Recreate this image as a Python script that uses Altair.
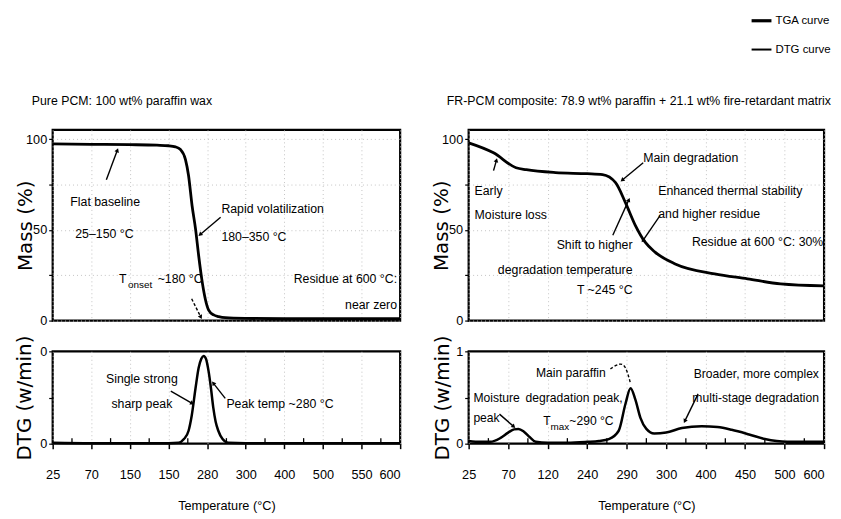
import math
import altair as alt
import pandas as pd

NARROW = "Liberation Sans, Arial, sans-serif"
WIDE = "DejaVu Sans"
FS = 12.4

# ---------------- data ----------------
X_LABELS_LEFT = ["25", "70", "150", "150", "280", "300", "400", "500", "550", "600"]
X_LABELS_RIGHT = ["25", "70", "120", "240", "290", "300", "400", "450", "500", "600"]
MAJOR_POS = [0, 1, 2, 3, 4, 5, 6, 7, 8, 9]
MINOR_POS = [0.5, 1.5, 2.5, 3.5, 4.5, 5.5, 6.5, 7.5, 8.5]

# Pure PCM – TGA (axis position, mass %)
TGA_L_POS = [0, 1, 2, 2.7, 3.0, 3.18, 3.31, 3.44, 3.52, 3.61, 3.7, 3.78, 3.86, 3.95, 4.04, 4.17, 4.3, 4.47, 5, 6, 7, 8, 9]
TGA_L_VAL = [97.3, 97.1, 96.9, 96.6, 96.3, 95.7, 94.2, 88.7, 79.8, 63.4, 50.5, 36, 23.1, 12.2, 5.8, 3.1, 2.2, 1.6, 1.2, 1.0, 1.0, 1.0, 1.0]
# Pure PCM – DTG
DTG_L_POS = [0, 1, 2, 3.0, 3.26, 3.4, 3.52, 3.6, 3.7, 3.78, 3.85, 3.91, 3.97, 4.04, 4.1, 4.16, 4.22, 4.29, 4.4, 4.55, 5, 9]
DTG_L_VAL = [0.01, 0.005, 0.005, 0.005, 0.01, 0.05, 0.14, 0.3, 0.6, 0.82, 0.92, 0.95, 0.92, 0.78, 0.6, 0.39, 0.24, 0.14, 0.05, 0.01, 0.005, 0.005]
# FR-PCM – TGA
TGA_R_POS = [0, 0.63, 1.2, 1.46, 2.2, 3.0, 3.39, 3.72, 3.97, 4.22, 4.47, 4.72, 5.23, 6.23, 7.06, 7.9, 9]
TGA_R_VAL = [97.9, 92.4, 84.2, 83.1, 81.5, 80.9, 80.4, 76, 65, 52.5, 43.2, 37.7, 31.2, 25.7, 23, 20.2, 19.1]
# FR-PCM – DTG
DTG_R_POS = [0, 0.3, 0.55, 0.8, 1.0, 1.15, 1.26, 1.4, 1.55, 1.7, 2.0, 2.5, 3.0, 3.3, 3.55, 3.8, 3.97, 4.1, 4.22, 4.35, 4.5, 4.7, 5.0, 5.4, 5.9, 6.3, 6.66, 7.1, 7.5, 8.07, 9]
DTG_R_VAL = [0.03, 0.02, 0.02, 0.06, 0.12, 0.155, 0.16, 0.13, 0.07, 0.02, 0.01, 0.01, 0.02, 0.03, 0.05, 0.14, 0.43, 0.6, 0.48, 0.28, 0.16, 0.11, 0.12, 0.17, 0.19, 0.18, 0.15, 0.1, 0.05, 0.02, 0.02]

TITLE_LEFT = "Pure PCM: 100 wt% paraffin wax"
TITLE_RIGHT = "FR-PCM composite: 78.9 wt% paraffin + 21.1 wt% fire-retardant matrix"
LEGEND_LABELS = ["TGA curve", "DTG curve"]

# annotations: text, position, value, alignment
ANN_LT_TEXT = ["Flat baseline", "25–150 °C", "Rapid volatilization", "180–350 °C", "T", "~180 °C", "Residue at 600 °C:", "near zero"]
ANN_LT_POS = [1.36, 1.34, 4.37, 4.37, 1.72, 2.72, 8.92, 8.92]
ANN_LT_VAL = [65.1, 47.6, 61.2, 45.9, 23, 23, 23, 8.7]
ANN_LT_ALIGN = ["center", "center", "left", "left", "left", "left", "right", "right"]
SUB_LT_TEXT = ["onset"]
SUB_LT_POS = [1.95]
SUB_LT_VAL = [19.5]
ARR_LT = {"x": [1.39, 4.35], "y": [77.6, 56.9], "x2": [1.67, 3.83], "y2": [93.5, 47.6]}
DASH_LT = {"x": [3.6], "y": [12], "x2": [3.83], "y2": [2.2]}

ANN_LB_TEXT = ["Single strong", "sharp peak", "Peak temp ~280 °C"]
ANN_LB_POS = [2.31, 2.31, 4.5]
ANN_LB_VAL = [0.70, 0.43, 0.43]
ANN_LB_ALIGN = ["center", "center", "left"]
ARR_LB = {"x": [3.06, 4.47], "y": [0.57, 0.49], "x2": [3.6, 4.17], "y2": [0.44, 0.65]}

ANN_RT_TEXT = ["Early", "Moisture loss", "Main degradation", "Enhanced thermal stability", "and higher residue",
               "Shift to higher", "degradation temperature", "T ~245 °C", "Residue at 600 °C: 30%"]
ANN_RT_POS = [0.15, 0.15, 4.42, 4.8, 4.8, 4.15, 4.15, 4.15, 8.98]
ANN_RT_VAL = [71.6, 58, 89.7, 71.6, 58.5, 41.6, 27.9, 16.9, 43.2]
ANN_RT_ALIGN = ["left", "left", "left", "left", "left", "right", "right", "right", "right"]
ARR_RT = {"x": [0.63, 4.42, 4.85, 3.65], "y": [82.6, 86.9, 58, 47], "x2": [0.7, 3.9, 4.42, 4.05], "y2": [88, 77.6, 44.3, 66.2]}

ANN_RB_TEXT = ["Main paraffin", "degradation peak,", "T", "~290 °C", "Moisture", "peak", "Broader, more complex", "multi-stage degradation"]
ANN_RB_POS = [3.47, 2.67, 1.89, 2.55, 0.12, 0.12, 8.87, 8.87]
ANN_RB_VAL = [0.76, 0.49, 0.25, 0.25, 0.49, 0.28, 0.75, 0.49]
ANN_RB_ALIGN = ["right", "center", "left", "left", "left", "left", "right", "right"]
SUB_RB_TEXT = ["max"]
SUB_RB_POS = [2.07]
SUB_RB_VAL = [0.18]
ARR_RB = {"x": [0.78, 5.81], "y": [0.32, 0.54], "x2": [1.13, 5.48], "y2": [0.19, 0.25]}
DASH_RB_POS = [3.59, 3.8, 3.97, 4.1]
DASH_RB_VAL = [0.81, 0.87, 0.86, 0.65]

# ---------------- layout constants ----------------
W_L, W_R = 350, 358
H_TOP, H_BOT = 192, 93
MASS_DOMAIN = [0, 105]
DTG_DOMAIN = [0, 1]
X_DOMAIN = [0, 9]
GRID = dict(grid=True, gridColor="#c4c4c4", gridDash=[1, 3], gridWidth=1)
LAST_RIGHT = {"condition": {"test": "datum.value == 9", "value": "right"}, "value": "center"}


def lab_expr(labels):
    arr = "[" + ",".join("'%s'" % l for l in labels) + "]"
    return arr + "[round(datum.value)]"


def x_top():
    return alt.X("pos:Q", scale=alt.Scale(domain=X_DOMAIN, nice=False, zero=False),
                 axis=alt.Axis(values=MAJOR_POS, labels=False, ticks=False, domain=False, title=None, **GRID))


def x_bot(labels):
    return alt.X("pos:Q", scale=alt.Scale(domain=X_DOMAIN, nice=False, zero=False),
                 axis=alt.Axis(values=MAJOR_POS, labelExpr=lab_expr(labels), domain=False,
                               tickSize=5, tickWidth=1.5, tickColor="black", labelOverlap=False,
                               labelAlign=LAST_RIGHT,
                               labelFont=NARROW, labelFontSize=12.8, labelColor="black", labelPadding=20,
                               title="Temperature (°C)", titleFont=NARROW, titleFontSize=12.8,
                               titleFontWeight="normal", titleColor="black", titlePadding=19, **GRID))


def y_mass(tx):
    return alt.Y("val:Q", scale=alt.Scale(domain=MASS_DOMAIN, nice=False),
                 axis=alt.Axis(values=[0, 25, 50, 75, 100],
                               labelExpr="datum.value % 50 == 0 ? datum.label : ''",
                               domain=False, tickSize=4, tickWidth=1.2, tickColor="black",
                               labelFont=NARROW, labelFontSize=12.8, labelColor="black", labelPadding=2,
                               title="Mass (%)", titleFont=WIDE, titleFontSize=20, titleFontWeight="normal",
                               titleColor="black", titleX=tx, titleY=H_TOP / 2, titleBaseline="middle",
                               titleAngle=270, **GRID))


def y_dtg(tx, expr):
    return alt.Y("val:Q", scale=alt.Scale(domain=DTG_DOMAIN, nice=False),
                 axis=alt.Axis(values=[0, 0.5, 1], labelExpr=expr,
                               domain=False, tickSize=4, tickWidth=1.2, tickColor="black",
                               labelFont=NARROW, labelFontSize=12.8, labelColor="black", labelPadding=2,
                               title="DTG (w/min)", titleFont=WIDE, titleFontSize=20, titleFontWeight="normal",
                               titleColor="black", titleX=tx, titleY=H_BOT / 2, titleBaseline="middle",
                               titleAngle=270, grid=False))


class Panel:
    def __init__(self, xe, ye, width, height, ydomain):
        self.xe, self.ye = xe, ye
        self.kx = width / (X_DOMAIN[1] - X_DOMAIN[0])
        self.ky = height / (ydomain[1] - ydomain[0])

    def curve(self, pos, val, width):
        df = pd.DataFrame({"pos": pos, "val": val})
        return alt.Chart(df).mark_line(color="black", strokeWidth=width, interpolate="monotone").encode(
            x=self.xe, y=self.ye)

    def texts(self, text, pos, val, align, size=FS):
        df = pd.DataFrame({"label": text, "pos": pos, "val": val, "align": align})
        layers = []
        for a in ["left", "center", "right"]:
            sub = df[df["align"] == a]
            if len(sub):
                layers.append(alt.Chart(sub).mark_text(align=a, baseline="middle", font=NARROW, fontSize=size,
                                                       color="black")
                              .encode(x=self.xe, y=self.ye, text="label:N"))
        return layers

    def arrows(self, d, dash=None, head=True):
        df = pd.DataFrame({"pos": d["x"], "val": d["y"], "pos2": d["x2"], "val2": d["y2"]})
        kw = dict(color="black", strokeWidth=1.4)
        if dash:
            kw["strokeDash"] = dash
        layers = [alt.Chart(df).mark_rule(**kw).encode(x=self.xe, y=self.ye, x2="pos2:Q", y2="val2:Q")]
        if head:
            ang = []
            for x1, y1, x2, y2 in zip(d["x"], d["y"], d["x2"], d["y2"]):
                dx = (x2 - x1) * self.kx
                dy = -(y2 - y1) * self.ky
                ang.append(math.degrees(math.atan2(dx, -dy)) % 360)
            hd = pd.DataFrame({"pos": d["x2"], "val": d["y2"], "ang": ang})
            layers.append(alt.Chart(hd).mark_point(shape="triangle", filled=True, color="black", size=22,
                                                   opacity=1)
                          .encode(x=self.xe, y=self.ye, angle=alt.Angle("ang:Q", scale=None)))
        return layers

    def minor_ticks(self, length):
        df = pd.DataFrame({"pos": MINOR_POS, "val": [0] * len(MINOR_POS), "val2": [length] * len(MINOR_POS)})
        return alt.Chart(df).mark_rule(color="black", strokeWidth=1.3).encode(x=self.xe, y=self.ye, y2="val2:Q")

    def title(self, text, dx):
        df = pd.DataFrame({"label": [text]})
        return alt.Chart(df).mark_text(align="left", baseline="middle", font=NARROW, fontSize=12.4,
                                       color="black").encode(x=alt.value(dx), y=alt.value(-29), text="label:N")


# ---------------- left panels ----------------
p = Panel(x_top(), y_mass(-27), W_L, H_TOP, MASS_DOMAIN)
lt = alt.layer(
    p.curve(TGA_L_POS, TGA_L_VAL, 2.8),
    *p.texts(ANN_LT_TEXT, ANN_LT_POS, ANN_LT_VAL, ANN_LT_ALIGN),
    *p.texts(SUB_LT_TEXT, SUB_LT_POS, SUB_LT_VAL, ["left"], size=10),
    *p.arrows(ARR_LT),
    *p.arrows(DASH_LT, dash=[3, 2]),
    p.title(TITLE_LEFT, -21),
).properties(width=W_L, height=H_TOP)

p = Panel(x_bot(X_LABELS_LEFT), y_dtg(-28, "datum.value == 0.5 ? '' : '0'"), W_L, H_BOT, DTG_DOMAIN)
lb = alt.layer(
    p.curve(DTG_L_POS, DTG_L_VAL, 2.5),
    p.minor_ticks(0.06),
    *p.texts(ANN_LB_TEXT, ANN_LB_POS, ANN_LB_VAL, ANN_LB_ALIGN),
    *p.arrows(ARR_LB),
).properties(width=W_L, height=H_BOT)

# ---------------- right panels ----------------
legend_one = pd.DataFrame({"label": [LEGEND_LABELS[0]]})
legend_two = pd.DataFrame({"label": [LEGEND_LABELS[1]]})
legend_layers = [
    alt.Chart(legend_one).mark_rule(color="black", strokeWidth=3.2).encode(
        x=alt.value(285), x2=alt.value(305), y=alt.value(-110)),
    alt.Chart(legend_two).mark_rule(color="black", strokeWidth=2.0).encode(
        x=alt.value(285), x2=alt.value(305), y=alt.value(-81)),
    alt.Chart(legend_one).mark_text(align="left", baseline="middle", font=NARROW, fontSize=11.5, color="black").encode(
        x=alt.value(309), y=alt.value(-110), text="label:N"),
    alt.Chart(legend_two).mark_text(align="left", baseline="middle", font=NARROW, fontSize=11.5, color="black").encode(
        x=alt.value(309), y=alt.value(-81), text="label:N"),
]

p = Panel(x_top(), y_mass(-27), W_R, H_TOP, MASS_DOMAIN)
rt = alt.layer(
    p.curve(TGA_R_POS, TGA_R_VAL, 2.8),
    *p.texts(ANN_RT_TEXT, ANN_RT_POS, ANN_RT_VAL, ANN_RT_ALIGN),
    *p.arrows(ARR_RT),
    p.title(TITLE_RIGHT, -22),
    *legend_layers,
).properties(width=W_R, height=H_TOP)

p = Panel(x_bot(X_LABELS_RIGHT), y_dtg(-26, "datum.value == 0.5 ? '' : (datum.value == 1 ? '1' : '0')"),
          W_R, H_BOT, DTG_DOMAIN)
dash_df = pd.DataFrame({"pos": DASH_RB_POS, "val": DASH_RB_VAL})
rb = alt.layer(
    p.curve(DTG_R_POS, DTG_R_VAL, 2.5),
    p.minor_ticks(0.06),
    *p.texts(ANN_RB_TEXT, ANN_RB_POS, ANN_RB_VAL, ANN_RB_ALIGN, size=12.2),
    *p.texts(SUB_RB_TEXT, SUB_RB_POS, SUB_RB_VAL, ["left"], size=10),
    *p.arrows(ARR_RB),
    alt.Chart(dash_df).mark_line(color="black", strokeWidth=1.4, strokeDash=[3, 2], interpolate="basis")
    .encode(x=p.xe, y=p.ye),
).properties(width=W_R, height=H_BOT)

chart = alt.concat(lt, rt, lb, rb, columns=2, spacing={"row": 31, "column": 69},
                   bounds="flush", align="each").properties(
    padding={"left": 5, "top": 3, "right": 0, "bottom": 0},
    background="white",
).configure_view(stroke="black", strokeWidth=2.2)

chart.save("out.html", embed_options={"renderer": "svg", "actions": False})
